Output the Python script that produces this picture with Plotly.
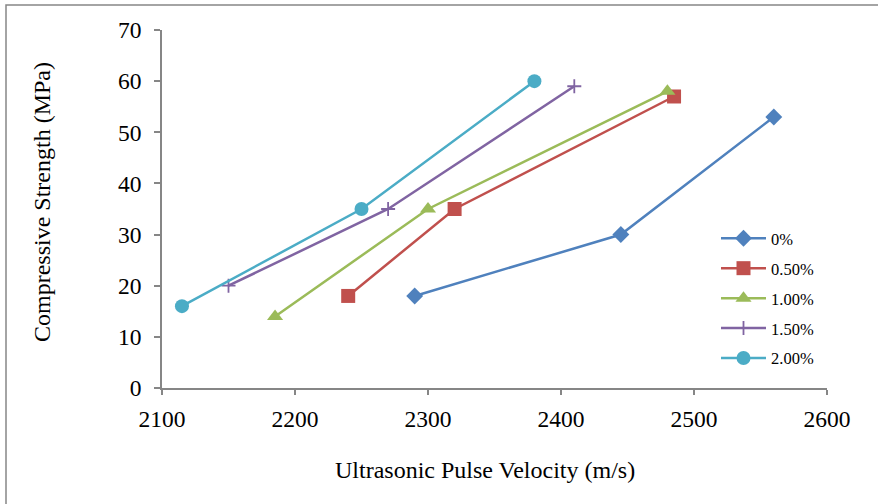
import plotly.graph_objects as go

series_names = ["0%", "0.50%", "1.00%", "1.50%", "2.00%"]
velocity = [
    [2290, 2445, 2560],
    [2240, 2320, 2485],
    [2185, 2300, 2480],
    [2150, 2270, 2410],
    [2115, 2250, 2380],
]
strength = [
    [18, 30, 53],
    [18, 35, 57],
    [14, 35, 58],
    [20, 35, 59],
    [16, 35, 60],
]
colors = ["#4F81BD", "#C0504D", "#9BBB59", "#8064A2", "#4BACC6"]
symbols = ["diamond", "square", "triangle-up", "cross-thin-open", "circle"]
sizes = [13, 14, 14, 10, 14]

FONT = "Liberation Serif, Times New Roman, serif"

fig = go.Figure()
for name, xs, ys, c, s, sz in zip(series_names, velocity, strength, colors, symbols, sizes):
    fig.add_trace(go.Scatter(
        x=xs, y=ys, name=name, mode="lines+markers", legendgroup=name,
        line=dict(color=c, width=2.5),
        marker=dict(symbol=s, size=sz, color=c, line=dict(color=c, width=1.8 if "cross" in s else 0)),
    ))

L, R, T, B = 162, 51, 30, 116
W, H = 878, 504
pw, ph = W - L - R, H - T - B

def px_x(px):
    return (px - L) / pw

def px_y(py):
    return (H - B - py) / ph

fig.update_layout(
    width=W, height=H,
    margin=dict(l=L, r=R, t=T, b=B, autoexpand=False),
    paper_bgcolor="white", plot_bgcolor="white",
    font=dict(family=FONT, color="black", size=18),
    showlegend=True,
    legend=dict(
        x=px_x(716), y=px_y(221), xanchor="left", yanchor="top",
        font=dict(family=FONT, size=16.5, color="black"),
        bgcolor="rgba(0,0,0,0)", tracegroupgap=5.5, itemwidth=45,
    ),
    xaxis=dict(
        range=[2100, 2600], tickvals=[2100, 2200, 2300, 2400, 2500, 2600],
        showgrid=False, zeroline=False, showline=True, linecolor="#868686", linewidth=1.5,
        ticks="outside", ticklen=5, tickcolor="#868686", tickwidth=1.5,
        tickfont=dict(family=FONT, size=23.5), ticklabelstandoff=4, fixedrange=True,
    ),
    yaxis=dict(
        range=[0, 70], tickvals=[0, 10, 20, 30, 40, 50, 60, 70],
        showgrid=False, zeroline=False, showline=True, linecolor="#868686", linewidth=1.5,
        ticks="outside", ticklen=6, tickcolor="#868686", tickwidth=1.5,
        tickfont=dict(family=FONT, size=23.5), ticklabelstandoff=8, fixedrange=True,
    ),
    annotations=[
        dict(text="Ultrasonic Pulse Velocity (m/s)", xref="paper", yref="paper",
             x=px_x(485), y=px_y(470), showarrow=False,
             font=dict(family=FONT, size=24), xanchor="center", yanchor="middle"),
        dict(text="Compressive Strength (MPa)", xref="paper", yref="paper",
             x=px_x(42), y=px_y(202), showarrow=False, textangle=-90,
             font=dict(family=FONT, size=24), xanchor="center", yanchor="middle"),
    ],
    shapes=[
        dict(type="rect", xref="paper", yref="paper",
             x0=px_x(6), x1=px_x(890), y0=px_y(515), y1=px_y(5),
             line=dict(color="#868686", width=1.5), fillcolor="rgba(0,0,0,0)", layer="below"),
    ],
)

fig.write_html("out.html", config={"displayModeBar": False},
               post_script="document.body.style.margin='0';")
